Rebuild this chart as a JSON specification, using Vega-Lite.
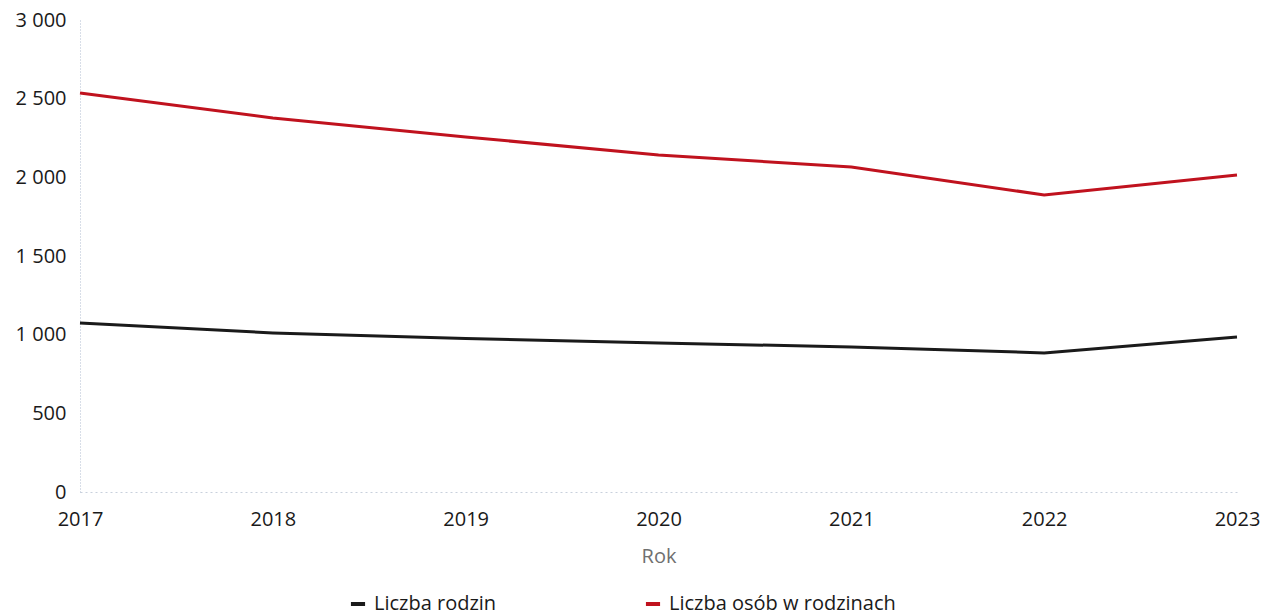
{
  "$schema": "https://vega.github.io/schema/vega-lite/v6.json",
  "width": 1157,
  "height": 472,
  "autosize": "none",
  "padding": {"left": 80, "top": 20, "right": 33, "bottom": 124},
  "background": "white",
  "config": {
    "font": "Open Sans",
    "view": {"stroke": null}
  },
  "data": {
    "values": [
      {"Rok": "2017", "seria": "Liczba rodzin", "wartosc": 1074},
      {"Rok": "2018", "seria": "Liczba rodzin", "wartosc": 1011},
      {"Rok": "2019", "seria": "Liczba rodzin", "wartosc": 975},
      {"Rok": "2020", "seria": "Liczba rodzin", "wartosc": 947},
      {"Rok": "2021", "seria": "Liczba rodzin", "wartosc": 922},
      {"Rok": "2022", "seria": "Liczba rodzin", "wartosc": 884},
      {"Rok": "2023", "seria": "Liczba rodzin", "wartosc": 985},
      {"Rok": "2017", "seria": "Liczba osób w rodzinach", "wartosc": 2536},
      {"Rok": "2018", "seria": "Liczba osób w rodzinach", "wartosc": 2377},
      {"Rok": "2019", "seria": "Liczba osób w rodzinach", "wartosc": 2257},
      {"Rok": "2020", "seria": "Liczba osób w rodzinach", "wartosc": 2142},
      {"Rok": "2021", "seria": "Liczba osób w rodzinach", "wartosc": 2066},
      {"Rok": "2022", "seria": "Liczba osób w rodzinach", "wartosc": 1888},
      {"Rok": "2023", "seria": "Liczba osób w rodzinach", "wartosc": 2015}
    ]
  },
  "mark": {"type": "line", "strokeWidth": 3},
  "encoding": {
    "x": {
      "field": "Rok",
      "type": "ordinal",
      "scale": {"type": "point", "padding": 0},
      "axis": {
        "title": "Rok",
        "titleColor": "#707070",
        "titleFontWeight": "normal",
        "titleFontSize": 20,
        "titlePadding": 17,
        "labelAngle": 0,
        "labelFontSize": 20,
        "labelColor": "#1a1a1a",
        "labelPadding": 17,
        "ticks": false,
        "domainColor": "#c8d0dc",
        "domainDash": [2, 3],
        "domainWidth": 1
      }
    },
    "y": {
      "field": "wartosc",
      "type": "quantitative",
      "scale": {"domain": [0, 3000], "nice": false},
      "axis": {
        "title": null,
        "values": [0, 500, 1000, 1500, 2000, 2500, 3000],
        "labelExpr": "replace(format(datum.value, ','), ',', ' ')",
        "labelFontSize": 20,
        "labelColor": "#1a1a1a",
        "labelPadding": 14,
        "ticks": false,
        "grid": false,
        "domainColor": "#b0bcd0",
        "domainDash": [1, 2],
        "domainWidth": 1
      }
    },
    "color": {
      "field": "seria",
      "type": "nominal",
      "sort": ["Liczba rodzin", "Liczba osób w rodzinach"],
      "scale": {
        "domain": ["Liczba rodzin", "Liczba osób w rodzinach"],
        "range": ["#1a1a1a", "#c0121e"]
      },
      "legend": {
        "title": null,
        "orient": "none",
        "legendX": 268,
        "legendY": 574,
        "direction": "horizontal",
        "columns": 2,
        "symbolType": "stroke",
        "symbolSize": 200,
        "symbolStrokeWidth": 4,
        "labelFontSize": 20,
        "labelLimit": 400,
        "labelColor": "#1a1a1a",
        "labelOffset": 6,
        "columnPadding": 140
      }
    }
  }
}
